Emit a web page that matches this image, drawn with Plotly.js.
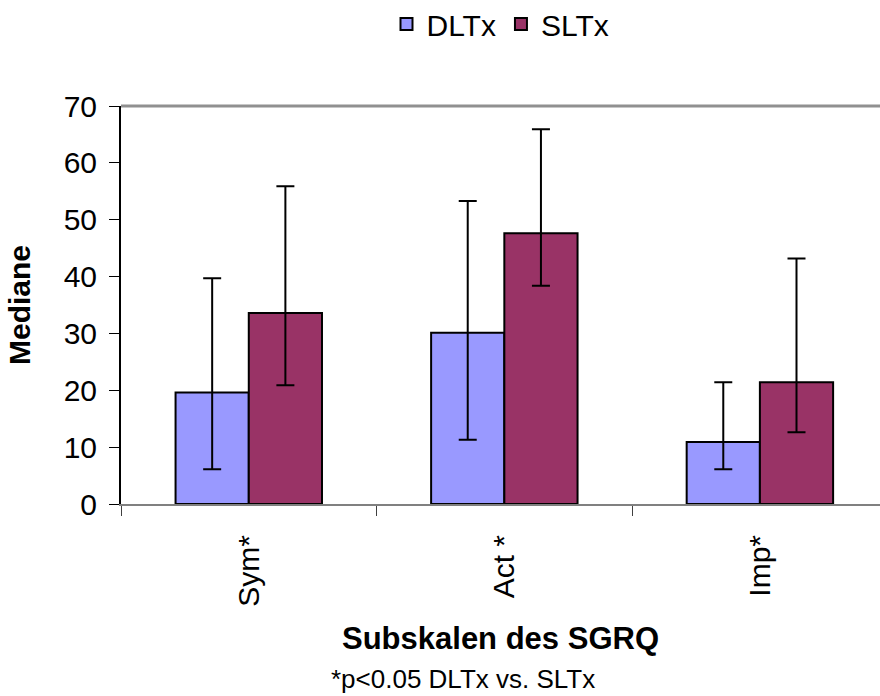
<!DOCTYPE html>
<html>
<head>
<meta charset="utf-8">
<script src="https://cdn.plot.ly/plotly-3.0.1.min.js"></script>
<style>html,body{margin:0;padding:0;background:#fff;}#chart{width:880px;height:696px;}</style>
</head>
<body>
<div id="chart"></div>
<script>
const categories = ["Sym*", "Act *", "Imp*"];
const seriesNames = ["DLTx", "SLTx"];
const dltxMedian = [19.6, 30.1, 10.9];
const dltxUpper = [39.7, 53.3, 21.4];
const dltxLower = [6.1, 11.3, 6.1];
const sltxMedian = [33.6, 47.6, 21.4];
const sltxUpper = [55.9, 65.9, 43.2];
const sltxLower = [20.9, 38.4, 12.6];

const FONT = "Liberation Sans, Arial, sans-serif";

function errs(med, up, lo) {
  return {
    type: "data", symmetric: false,
    array: up.map((u, i) => u - med[i]),
    arrayminus: lo.map((l, i) => med[i] - l),
    color: "#000", thickness: 2, width: 9
  };
}

const traces = [
  {
    type: "bar", name: seriesNames[0], x: categories, y: dltxMedian,
    marker: {color: "#9999FF", line: {color: "#000", width: 2}},
    error_y: errs(dltxMedian, dltxUpper, dltxLower)
  },
  {
    type: "bar", name: seriesNames[1], x: categories, y: sltxMedian,
    marker: {color: "#993366", line: {color: "#000", width: 2}},
    error_y: errs(sltxMedian, sltxUpper, sltxLower)
  }
];

const layout = {
  width: 880, height: 696,
  margin: {l: 121, r: 0, t: 106, b: 192, autoexpand: false},
  paper_bgcolor: "#fff", plot_bgcolor: "#fff",
  font: {family: FONT, color: "#000", size: 30},
  barmode: "group", bargap: 0.427, bargroupgap: 0,
  showlegend: true,
  legend: {
    orientation: "h", x: 0.5, xanchor: "center", y: 1.206, yanchor: "middle",
    font: {family: FONT, size: 30, color: "#000"}, itemwidth: 30, tracegroupgap: 0
  },
  xaxis: {
    type: "category", range: [-0.5, 2.47],
    showline: true, linecolor: "#808080", linewidth: 2,
    ticks: "outside", tickson: "boundaries", ticklen: 10, tickcolor: "#404040", tickwidth: 1,
    tickangle: -90, tickfont: {family: FONT, size: 30, color: "#000"}, ticklabelstandoff: 17,
    showgrid: false, zeroline: false,
    title: {text: "<b>Subskalen des SGRQ</b>", font: {family: FONT, size: 31, color: "#000"}, standoff: 22}
  },
  yaxis: {
    range: [0, 70], dtick: 10, tick0: 0,
    showline: true, linecolor: "#000", linewidth: 2,
    ticks: "outside", ticklen: 10, tickcolor: "#000", tickwidth: 1,
    tickfont: {family: FONT, size: 30, color: "#000"}, ticklabelstandoff: 6,
    showgrid: false, zeroline: false,
    title: {text: "<b>Mediane</b>", font: {family: FONT, size: 30, color: "#000"}, standoff: 24}
  },
  shapes: [{
    type: "line", xref: "paper", yref: "paper", x0: 0, x1: 1, y0: 1, y1: 1,
    line: {color: "#909090", width: 3}
  }],
  annotations: [{
    text: "*p<0.05 DLTx vs. SLTx", xref: "paper", yref: "paper",
    x: 0.451, y: -0.44, xanchor: "center", yanchor: "middle", showarrow: false,
    font: {family: FONT, size: 26, color: "#000"}
  }]
};

Plotly.newPlot("chart", traces, layout, {displayModeBar: false, staticPlot: true});
</script>
</body>
</html>
